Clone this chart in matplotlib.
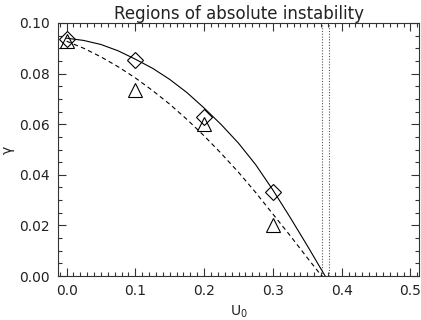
import numpy as np
import matplotlib
matplotlib.use('Agg')
import matplotlib.pyplot as plt
from matplotlib.ticker import MultipleLocator

# sample points (diamonds and triangles)
u_pts = [0.0, 0.1, 0.2, 0.3]
gamma_diamond = [0.0935, 0.0855, 0.063, 0.0333]
gamma_triangle = [0.093, 0.0735, 0.060, 0.020]

# solid curve
u_solid = [0.0, 0.025, 0.05, 0.075, 0.10, 0.125, 0.15, 0.175, 0.20, 0.225,
           0.25, 0.275, 0.30, 0.325, 0.35, 0.376]
gamma_solid = [0.0940, 0.0931, 0.0915, 0.0890, 0.0857, 0.0821, 0.0777, 0.0725, 0.0664, 0.0598,
               0.0525, 0.0440, 0.0340, 0.0232, 0.0120, 0.0]

# dashed curve
u_dashed = [0.0, 0.025, 0.05, 0.075, 0.10, 0.125, 0.15, 0.175, 0.20, 0.225,
            0.25, 0.275, 0.30, 0.325, 0.35, 0.371]
gamma_dashed = [0.0928, 0.0900, 0.0866, 0.0827, 0.0783, 0.0733, 0.0679, 0.0619, 0.0554, 0.0484,
                0.0410, 0.0330, 0.0245, 0.0160, 0.0072, 0.0]

# vertical dotted limits
u_limits = [0.372, 0.381]

plt.rcParams['font.family'] = 'DejaVu Sans'

fig = plt.figure(figsize=(4.21, 3.20), dpi=100)
ax = fig.add_axes([58/421, 44/320, 361/421, 253/320])

ax.plot(u_solid, gamma_solid, color='black', lw=0.8)
ax.plot(u_dashed, gamma_dashed, color='black', lw=0.8, dashes=(4, 3))
for u in u_limits:
    ax.axvline(u, color='#555555', lw=0.8, ls=(0, (1, 1.5)))

ax.plot(u_pts, gamma_diamond, ls='none', marker='D', ms=8, mfc='none', mec='black', mew=0.8)
ax.plot(u_pts, gamma_triangle, ls='none', marker='^', ms=10, mfc='none', mec='black', mew=0.8)

ax.set_xlim(-0.0125, 0.5125)
ax.set_ylim(0.0, 0.10)
ax.xaxis.set_major_locator(MultipleLocator(0.1))
ax.xaxis.set_minor_locator(MultipleLocator(0.01))
ax.yaxis.set_major_locator(MultipleLocator(0.02))
ax.yaxis.set_minor_locator(MultipleLocator(0.005))
ax.xaxis.set_major_formatter(plt.FormatStrFormatter('%.1f'))
ax.yaxis.set_major_formatter(plt.FormatStrFormatter('%.2f'))

ax.tick_params(which='both', direction='in', top=True, right=True, width=0.8, color='#333333')
ax.tick_params(which='major', length=6, labelsize=10, pad=6, labelcolor='#222222')
ax.tick_params(which='minor', length=3)
for s in ax.spines.values():
    s.set_linewidth(0.8)
    s.set_color('#333333')

ax.set_title('Regions of absolute instability', fontsize=12, pad=3, color='#222222')
ax.set_xlabel('U$_\\mathregular{0}$', fontsize=10, labelpad=4, color='#222222')
ax.set_ylabel('γ', fontsize=10, color='#222222')
ax.yaxis.set_label_coords(-0.12, 0.5)

fig.savefig('out.png', dpi=100)
